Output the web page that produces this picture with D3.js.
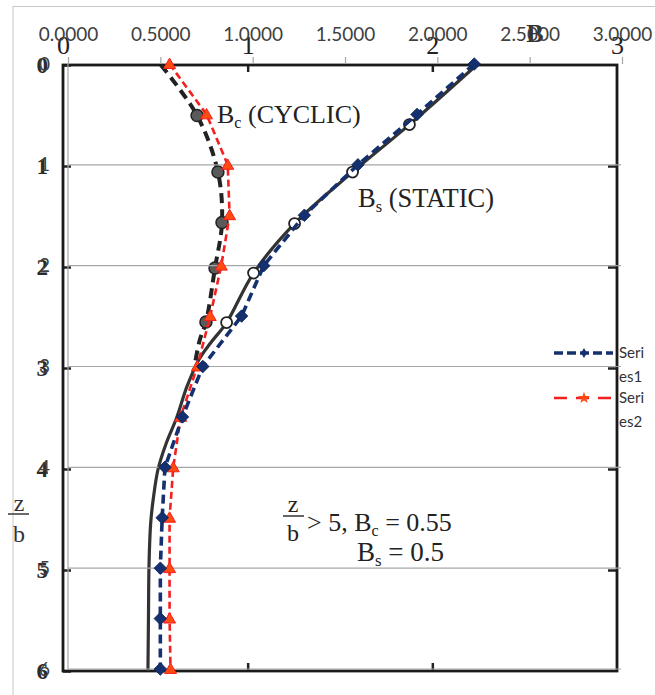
<!DOCTYPE html>
<html><head><meta charset="utf-8">
<script src="https://cdn.jsdelivr.net/npm/d3@7"></script>
<style>body{margin:0;background:#fff} svg{display:block}</style>
</head><body><svg id="chart" width="655" height="695"></svg>
<script>
// Spreadsheet series: B against depth ratio z/b
const depthLevels = [0, 0.5, 1, 1.5, 2, 2.5, 3, 3.5, 4, 4.5, 5, 5.5, 6];
const series1 = [2.2, 1.89, 1.57, 1.28, 1.06, 0.94, 0.73, 0.62, 0.525, 0.51, 0.5, 0.5, 0.5];
const series2 = [0.55, 0.75, 0.865, 0.875, 0.83, 0.77, 0.70, 0.61, 0.57, 0.55, 0.55, 0.55, 0.555];
const legendLabels = ["Series1", "Series2"];
const xTickValues = [0, 0.5, 1, 1.5, 2, 2.5, 3];
const zTickValues = [0, 1, 2, 3, 4, 5, 6];

// Printed design curves (underlay figure): depth z/b and B
const staticDepth = [0, 0.59, 1.06, 1.57, 2.06, 2.55, 2.75, 2.92, 3.19, 3.49, 3.74, 4.0, 4.28, 4.53, 4.93, 5.43, 6];
const staticB     = [2.24, 1.876, 1.568, 1.254, 1.032, 0.886, 0.80, 0.735, 0.67, 0.616, 0.56, 0.515, 0.49, 0.475, 0.466, 0.463, 0.46];
const staticMarkerIdx = [1, 2, 3, 4, 5];
const cyclicDepth = [0, 0.5, 1.06, 1.56, 2.01, 2.545, 2.72, 2.97];
const cyclicB     = [0.53, 0.726, 0.839, 0.861, 0.823, 0.774, 0.741, 0.713];
const cyclicMarkerIdx = [1, 2, 3, 4, 5];
const printedXTicks = [0, 1, 2, 3];
const printedInnerTicks = [1, 2];

const svg = d3.select("#chart");
const W = 655, H = 695;

// spreadsheet plot scales
const xE = d3.scaleLinear().domain([0, 3]).range([68, 622]);
const yE = d3.scaleLinear().domain([0, 6]).range([64, 669]);
// printed figure scales
const xS = d3.scaleLinear().domain([0, 3]).range([63, 617]);
const yS = d3.scaleLinear().domain([0, 6]).range([65, 671]);

const sansFont = "Lato, 'Open Sans', sans-serif";
const serifFont = "'Liberation Serif', 'DejaVu Serif', serif";

// chart area border
svg.append("rect").attr("x", 13).attr("y", 6.5).attr("width", W + 20).attr("height", H + 20)
  .attr("fill", "#fff").attr("stroke", "#c8c8c8").attr("stroke-width", 1);

// ---------- printed figure ----------
const printed = svg.append("g");

const printedTop = printed.append("g").attr("transform", `translate(0,${yS(0)})`)
  .call(d3.axisTop(xS).tickValues(printedXTicks).tickFormat(d3.format("d"))
    .tickSizeInner(-7).tickSizeOuter(0).tickPadding(11));
printedTop.select(".domain").remove();
printedTop.selectAll(".tick line").attr("stroke", "#222").attr("stroke-width", 2.5)
  .filter(d => !printedInnerTicks.includes(d)).remove();
printedTop.selectAll(".tick text").attr("font-family", serifFont).attr("font-size", 26)
  .attr("fill", "#222");

const printedBottom = printed.append("g").attr("transform", `translate(0,${yS(6)})`)
  .call(d3.axisBottom(xS).tickValues(printedInnerTicks).tickFormat("").tickSizeInner(-8).tickSizeOuter(0));
printedBottom.select(".domain").remove();
printedBottom.selectAll(".tick line").attr("stroke", "#222").attr("stroke-width", 2.5);

const printedLeft = printed.append("g").attr("transform", `translate(${xS(0)},0)`)
  .call(d3.axisLeft(yS).tickValues(zTickValues).tickFormat(d3.format("d"))
    .tickSizeInner(-8).tickSizeOuter(0).tickPadding(15));
printedLeft.select(".domain").remove();
printedLeft.selectAll(".tick line").attr("stroke", "#222").attr("stroke-width", 2.5);
printedLeft.selectAll(".tick text").attr("font-family", serifFont).attr("font-size", 23)
  .attr("font-weight", "bold").attr("fill", "#2a2a2a");

const printedRight = printed.append("g").attr("transform", `translate(${xS(3)},0)`)
  .call(d3.axisRight(yS).tickValues([1, 2, 3, 4, 5]).tickFormat("").tickSizeInner(-9).tickSizeOuter(0));
printedRight.select(".domain").remove();
printedRight.selectAll(".tick line").attr("stroke", "#222").attr("stroke-width", 2.5);

// frame of printed plot
printed.append("rect")
  .attr("x", xS(0)).attr("y", yS(0))
  .attr("width", xS(3) - xS(0)).attr("height", yS(6) - yS(0))
  .attr("fill", "none").attr("stroke", "#1a1a1a").attr("stroke-width", 2.8);

// axis title B and z/b
printed.append("text").attr("x", 535).attr("y", 42).attr("text-anchor", "middle")
  .attr("font-family", serifFont).attr("font-size", 26).attr("font-weight", "bold")
  .attr("fill", "#333").text("B");

const zbLeft = printed.append("g").attr("font-family", serifFont).attr("font-size", 24)
  .attr("fill", "#333").attr("text-anchor", "middle");
zbLeft.append("text").attr("x", 19).attr("y", 511).text("z");
zbLeft.append("line").attr("x1", 8).attr("x2", 29).attr("y1", 514).attr("y2", 514)
  .attr("stroke", "#444").attr("stroke-width", 1.6);
zbLeft.append("text").attr("x", 19).attr("y", 542).text("b");

// printed curves
const staticPts = staticDepth.map((z, i) => [staticB[i], z]);
const cyclicPts = cyclicDepth.map((z, i) => [cyclicB[i], z]);
const printedLine = d3.line().x(d => xS(d[0])).y(d => yS(d[1])).curve(d3.curveCatmullRom.alpha(0.5));

printed.append("path").datum(staticPts).attr("d", printedLine)
  .attr("fill", "none").attr("stroke", "#333").attr("stroke-width", 3.2);
printed.append("path").datum(cyclicPts).attr("d", printedLine)
  .attr("fill", "none").attr("stroke", "#222").attr("stroke-width", 4)
  .attr("stroke-dasharray", "10,6");

printed.selectAll(".static-mark").data(staticMarkerIdx.map(i => staticPts[i])).join("circle")
  .attr("cx", d => xS(d[0])).attr("cy", d => yS(d[1])).attr("r", 5.5)
  .attr("fill", "#fff").attr("stroke", "#222").attr("stroke-width", 1.8);
printed.selectAll(".cyclic-mark").data(cyclicMarkerIdx.map(i => cyclicPts[i])).join("circle")
  .attr("cx", d => xS(d[0])).attr("cy", d => yS(d[1])).attr("r", 6)
  .attr("fill", "#5a5a5a").attr("stroke", "#222").attr("stroke-width", 1.5);

// curve labels
function subLabel(g, x, y, main, sub, rest, size) {
  const t = g.append("text").attr("x", x).attr("y", y)
    .attr("font-family", serifFont).attr("font-size", size).attr("fill", "#222");
  t.append("tspan").text(main);
  t.append("tspan").attr("font-size", size * 0.62).attr("dy", size * 0.2).text(sub);
  t.append("tspan").attr("dy", -size * 0.2).text(rest);
  return t;
}
subLabel(printed, 217, 123, "B", "c", " (CYCLIC)", 26);
subLabel(printed, 358, 207, "B", "s", " (STATIC)", 26.5);

// note for deep zone
const note = printed.append("g").attr("font-family", serifFont).attr("fill", "#222");
note.append("text").attr("x", 293).attr("y", 512).attr("font-size", 24).attr("text-anchor", "middle").text("z");
note.append("line").attr("x1", 283).attr("x2", 304).attr("y1", 516).attr("y2", 516)
  .attr("stroke", "#333").attr("stroke-width", 1.5);
note.append("text").attr("x", 293).attr("y", 541).attr("font-size", 24).attr("text-anchor", "middle").text("b");
subLabel(note, 307, 531, "> 5, B", "c", " = 0.55", 26);
subLabel(note, 357, 561, "B", "s", " = 0.5", 27);

// ---------- spreadsheet overlay ----------
const excel = svg.append("g");

// gridlines
excel.selectAll(".grid").data(zTickValues.slice(1)).join("line")
  .attr("x1", xE(0)).attr("x2", xE(3) - 1)
  .attr("y1", d => yE(d)).attr("y2", d => yE(d))
  .attr("stroke", "#a6a6a6").attr("stroke-width", 1.2);
excel.append("line").attr("x1", xE(0)).attr("x2", xE(0)).attr("y1", yE(0)).attr("y2", yE(6))
  .attr("stroke", "#a6a6a6").attr("stroke-width", 1.2);

const topAxis = excel.append("g").attr("transform", `translate(0,${yE(0)})`)
  .call(d3.axisTop(xE).tickValues(xTickValues).tickFormat(d3.format(".4f"))
    .tickSizeInner(7).tickSizeOuter(0).tickPadding(16));
topAxis.select(".domain").remove();
topAxis.selectAll(".tick line").attr("stroke", "#a6a6a6").attr("stroke-width", 1.2);
topAxis.selectAll(".tick text").attr("font-family", sansFont).attr("font-size", 19).attr("fill", "#404040");

const leftAxis = excel.append("g").attr("transform", `translate(${xE(0)},0)`)
  .call(d3.axisLeft(yE).tickValues(zTickValues).tickFormat(d3.format("d"))
    .tickSize(0).tickPadding(18));
leftAxis.select(".domain").remove();
leftAxis.selectAll(".tick text").attr("font-family", sansFont).attr("font-size", 19).attr("fill", "#404040");

const s1Pts = depthLevels.map((z, i) => [series1[i], z]);
const s2Pts = depthLevels.map((z, i) => [series2[i], z]);
const excelLine = d3.line().x(d => xE(d[0])).y(d => yE(d[1]));

const navy = "#15306f", red = "#f41f1f", orange = "#ff4a10";

excel.append("path").datum(s2Pts).attr("d", excelLine)
  .attr("fill", "none").attr("stroke", red).attr("stroke-width", 2.6).attr("stroke-dasharray", "7,4");
excel.append("path").datum(s1Pts).attr("d", excelLine)
  .attr("fill", "none").attr("stroke", navy).attr("stroke-width", 3.6).attr("stroke-dasharray", "9,5");

const diamond = d3.symbol(d3.symbolSquare, 78);
const triangle = d3.symbol(d3.symbolTriangle, 62);

excel.selectAll(".s2-mark").data(s2Pts).join("path")
  .attr("d", triangle).attr("transform", d => `translate(${xE(d[0])},${yE(d[1]) + 1})`)
  .attr("fill", orange).attr("stroke", red).attr("stroke-width", 1);
excel.selectAll(".s1-mark").data(s1Pts).join("path")
  .attr("d", diamond).attr("transform", d => `translate(${xE(d[0])},${yE(d[1])}) rotate(45)`)
  .attr("fill", navy).attr("stroke", "#0c2358").attr("stroke-width", 0.8);

// legend
const legend = excel.append("g");
const legendY = [353, 398];
const legendStyles = [
  { stroke: navy, width: 3.4, dash: "9,4", symbol: d3.symbol(d3.symbolDiamond, 30), fill: navy },
  { stroke: red, width: 2.6, dash: "13,9", symbol: d3.symbol(d3.symbolStar, 45), fill: orange }
];
legendLabels.forEach((lab, i) => {
  const st = legendStyles[i];
  legend.append("line").attr("x1", 554).attr("x2", 613).attr("y1", legendY[i]).attr("y2", legendY[i])
    .attr("stroke", st.stroke).attr("stroke-width", st.width).attr("stroke-dasharray", st.dash);
  legend.append("path").attr("d", st.symbol).attr("transform", `translate(584,${legendY[i]})`)
    .attr("fill", st.fill);
  const t = legend.append("text").attr("font-family", sansFont).attr("font-size", 15).attr("fill", "#333");
  t.append("tspan").attr("x", 619).attr("y", legendY[i] + 5).text(lab.slice(0, 4));
  t.append("tspan").attr("x", 619).attr("y", legendY[i] + 29).text(lab.slice(4));
});
</script></body></html>
